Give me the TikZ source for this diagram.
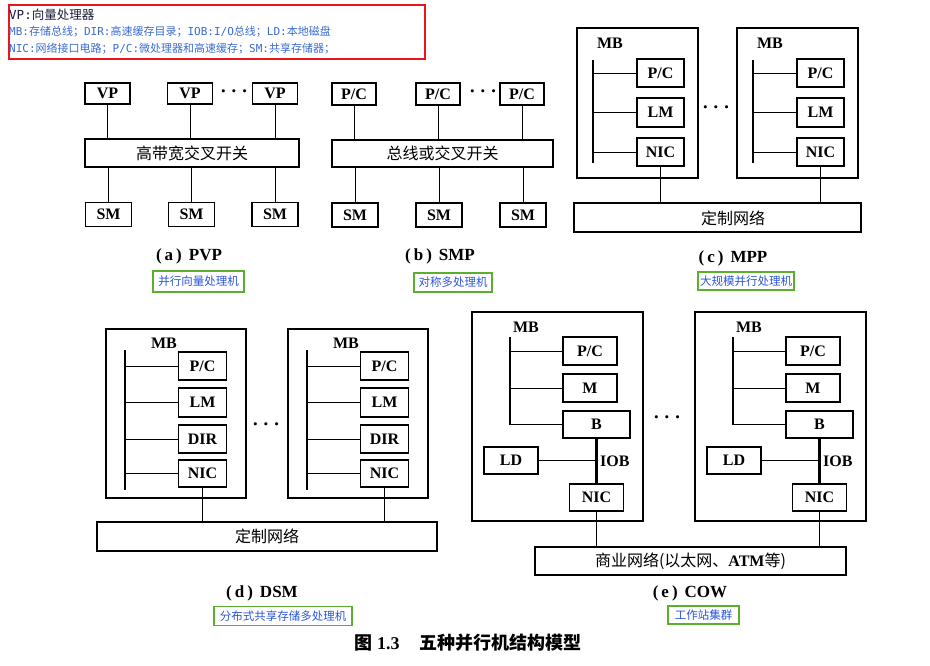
\documentclass[tikz,border=0pt]{standalone}
\usepackage{fontspec}
\setmainfont{Liberation Serif}
\newfontfamily\cjk{Noto Sans CJK SC}
\newfontfamily\monofnt{DejaVu Sans Mono}
\definecolor{legred}{HTML}{E8161B}
\definecolor{legblue}{HTML}{3A6BD0}
\definecolor{legdark}{HTML}{1B1B3A}
\definecolor{taggreen}{HTML}{5CAE2E}
\definecolor{tagblue}{HTML}{2A55D8}
\newcommand\labfont{\fontsize{16}{16}\selectfont\bfseries}
\newcommand\zhfont{\cjk\fontsize{16}{16}\selectfont}
\newcommand\captfont{\fontsize{17}{17}\selectfont\bfseries}
\newcommand\mo[1]{{\monofnt #1}}
\newcommand\capt[2]{(\hspace{3pt}#1\hspace{3pt})\hspace{7pt}#2}
\newcommand\mydots{{\boldmath$\cdots$}}
\begin{document}
\begin{tikzpicture}[x=1pt,y=-1pt,
  box/.style={draw, line width=1.5pt, inner sep=0pt, font=\labfont},
  wh/.style 2 args={minimum width=#1pt, minimum height=#2pt},
  barbox/.style={draw, line width=1.5pt, inner sep=0pt, font=\zhfont},
  frame/.style={draw, line width=1.5pt},
  wire/.style={line width=0.8pt},
  bus/.style={line width=2.8pt},
  lbl/.style={inner sep=0pt, font=\labfont},
  dots/.style={inner sep=0pt, font=\fontsize{22}{22}\selectfont},
  captn/.style={inner sep=0pt, font=\captfont},
  tag/.style={draw=taggreen, line width=1.4pt, inner sep=1pt, text=tagblue, font=\cjk\fontsize{11.5}{11.5}\selectfont},
]
\useasboundingbox (0,0) rectangle (930,665);

% ---------- legend ----------
\node[draw=legred, line width=1.8pt, anchor=north west, inner sep=0pt, wh={416}{54}] (legend) at (8,4) {};
\node[anchor=west, inner sep=0pt, text=legdark, font=\cjk\fontsize{12.5}{12.5}\selectfont] (leg1) at (9,15) {\mo{VP:}向量处理器};
\node[anchor=west, inner sep=0pt, text=legblue, font=\cjk\fontsize{11}{11}\selectfont] (leg2) at (9,32) {\mo{MB:}存储总线；\mo{DIR:}高速缓存目录；\mo{IOB:I/O}总线；\mo{LD:}本地磁盘};
\node[anchor=west, inner sep=0pt, text=legblue, font=\cjk\fontsize{11}{11}\selectfont] (leg3) at (9,49) {\mo{NIC:}网络接口电路；\mo{P/C:}微处理器和高速缓存；\mo{SM:}共享存储器；};

% ---------- (a) PVP ----------
\node[box, wh={45}{21}] (vp1) at (107.5,93.5) {VP};
\node[box, wh={45}{21}] (vp2) at (190,93.5) {VP};
\node[box, wh={45}{21}] (vp3) at (275,93.5) {VP};
\node[dots] (adots) at (234,92) {\mydots};
\node[barbox, wh={214}{28}] (xbar) at (192,153) {高带宽交叉开关};
\node[box, wh={46}{24}] (sm1) at (108.5,214.5) {SM};
\node[box, wh={46}{24}] (sm2) at (191.5,214.5) {SM};
\node[box, wh={46}{24}] (sm3) at (275,214.5) {SM};
\foreach \n in {1,2,3} {
  \draw[wire] (vp\n.south) -- (vp\n.south |- xbar.north);
  \draw[wire] (sm\n.north |- xbar.south) -- (sm\n.north);
}
\node[captn] (capa) at (189,256) {\capt{a}{PVP}};
\node[tag, wh={91}{21}] (taga) at (198.5,281.5) {并行向量处理机};

% ---------- (b) SMP ----------
\node[box, wh={44}{22}] (pcb1) at (354,94) {P/C};
\node[box, wh={44}{22}] (pcb2) at (438,94) {P/C};
\node[box, wh={44}{22}] (pcb3) at (522,94) {P/C};
\node[dots] (bdots) at (483,92) {\mydots};
\node[barbox, wh={221}{27}] (bbar) at (442.5,153.5) {总线或交叉开关};
\node[box, wh={46}{24}] (smb1) at (355,215) {SM};
\node[box, wh={46}{24}] (smb2) at (439,215) {SM};
\node[box, wh={46}{24}] (smb3) at (523,215) {SM};
\foreach \n in {1,2,3} {
  \draw[wire] (pcb\n.south) -- (pcb\n.south |- bbar.north);
  \draw[wire] (smb\n.north |- bbar.south) -- (smb\n.north);
}
\node[captn] (capb) at (440,256) {\capt{b}{SMP}};
\node[tag, wh={78}{19}] (tagb) at (453,282.5) {对称多处理机};

% ---------- (c) MPP ----------
\node[barbox, wh={287}{29}] (cnet) at (717.5,217.5) {};
\node[inner sep=0pt, font=\zhfont] (cnettext) at (733,218) {定制网络};
\foreach \i/\d in {1/0,2/160} {
  \begin{scope}[xshift=\d]
    \draw[frame] (577,28) rectangle (698,178);
    \node[lbl] (cmb\i) at (610,43) {MB};
    \coordinate (cbt\i) at (593,60);
    \coordinate (cbb\i) at (593,163);
    \draw[bus] (cbt\i) -- (cbb\i);
    \node[box, wh={47}{28}] (cpc\i) at (660.5,73) {P/C};
    \node[box, wh={47}{29}] (clm\i) at (660.5,112.5) {LM};
    \node[box, wh={47}{28}] (cnic\i) at (660.5,152) {NIC};
    \draw[wire] (cpc\i.west -| cbt\i) -- (cpc\i.west);
    \draw[wire] (clm\i.west -| cbt\i) -- (clm\i.west);
    \draw[wire] (cnic\i.west -| cbt\i) -- (cnic\i.west);
    \draw[wire] (cnic\i.south) -- (cnic\i.south |- cnet.north);
  \end{scope}
}
\node[dots] (cdots) at (716,108) {\mydots};
\node[captn] (capc) at (733,258) {\capt{c}{MPP}};
\node[tag, wh={96}{18}] (tagc) at (746,281) {大规模并行处理机};

% ---------- (d) DSM ----------
\node[barbox, wh={340}{29}] (dnet) at (267,536.5) {定制网络};
\foreach \i/\d in {1/0,2/182} {
  \begin{scope}[xshift=\d]
    \draw[frame] (106,329) rectangle (246,498);
    \node[lbl] (dmb\i) at (164,343) {MB};
    \coordinate (dbt\i) at (125,350);
    \coordinate (dbb\i) at (125,490);
    \draw[bus] (dbt\i) -- (dbb\i);
    \node[box, wh={48}{28}] (dpc\i) at (202.5,366) {P/C};
    \node[box, wh={48}{29}] (dlm\i) at (202.5,402.5) {LM};
    \node[box, wh={48}{28}] (ddir\i) at (202.5,439) {DIR};
    \node[box, wh={48}{27}] (dnic\i) at (202.5,473.5) {NIC};
    \draw[wire] (dpc\i.west -| dbt\i) -- (dpc\i.west);
    \draw[wire] (dlm\i.west -| dbt\i) -- (dlm\i.west);
    \draw[wire] (ddir\i.west -| dbt\i) -- (ddir\i.west);
    \draw[wire] (dnic\i.west -| dbt\i) -- (dnic\i.west);
    \draw[wire] (dnic\i.south) -- (dnic\i.south |- dnet.north);
  \end{scope}
}
\node[dots] (ddots) at (266,425) {\mydots};
\node[captn] (capd) at (262,593) {\capt{d}{DSM}};
\node[tag, wh={138}{19}] (tagd) at (283,616) {分布式共享存储多处理机};

% ---------- (e) COW ----------
\node[barbox, wh={311}{28}] (enet) at (690.5,561) {商业网络(以太网、{\rmfamily\bfseries ATM}等)};
\foreach \i/\d in {1/0,2/223} {
  \begin{scope}[xshift=\d]
    \draw[frame] (472,312) rectangle (643,521);
    \node[lbl] (emb\i) at (526,327) {MB};
    \coordinate (ebt\i) at (510,337);
    \node[box, wh={54}{28}] (epc\i) at (590,351) {P/C};
    \node[box, wh={54}{28}] (em\i) at (590,388) {M};
    \node[box, wh={67}{27}] (eb\i) at (596.5,424.5) {B};
    \node[box, wh={54}{27}] (eld\i) at (511,460.5) {LD};
    \node[box, wh={54}{27}] (enic\i) at (596.5,497.5) {NIC};
    \node[lbl, anchor=west] (eiob\i) at (600,461) {IOB};
    \draw[bus] (ebt\i) -- (ebt\i |- eb\i.west);
    \draw[wire] (ebt\i |- epc\i.west) -- (epc\i.west);
    \draw[wire] (ebt\i |- em\i.west) -- (em\i.west);
    \draw[wire] (ebt\i |- eb\i.west) -- (eb\i.west);
    \draw[bus] (eb\i.south) -- (enic\i.north);
    \draw[wire] (eld\i.east) -- (eld\i.east -| eb\i.south);
    \draw[wire] (enic\i.south) -- (enic\i.south |- enet.north);
  \end{scope}
}
\node[dots] (edots) at (667,418) {\mydots};
\node[captn] (cape) at (690,593) {\capt{e}{COW}};
\node[tag, wh={71}{18}] (tage) at (703.5,615) {工作站集群};

% ---------- figure caption ----------
\node[inner sep=0pt, font=\fontsize{18}{18}\selectfont\bfseries] (figcap) at (468,643) {{\cjk 图}\ 1.3\hspace{20pt}{\cjk 五种并行机结构模型}};
\end{tikzpicture}
\end{document}
